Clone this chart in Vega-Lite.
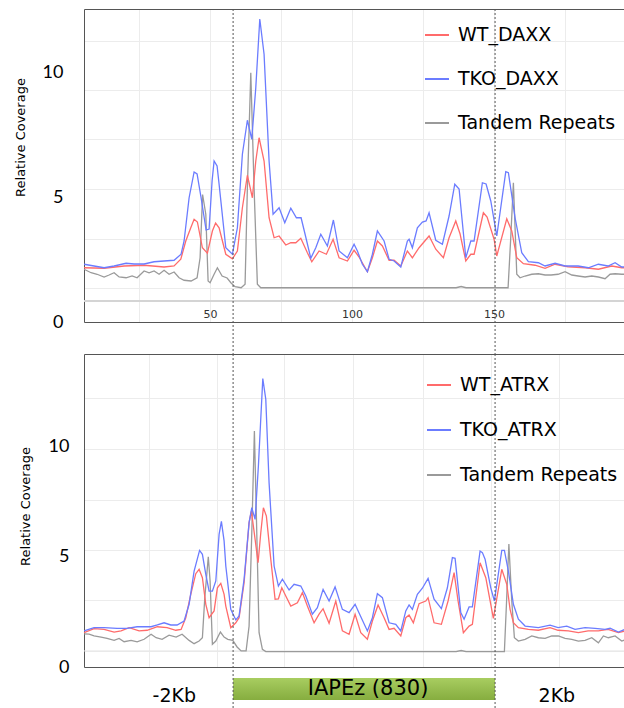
{
  "$schema": "https://vega.github.io/schema/vega-lite/v6.json",
  "padding": {"left": 13, "top": 8, "right": 0, "bottom": 0},
  "autosize": {"type": "pad"},
  "bounds": "flush",
  "spacing": 32,
  "config": {"view": {"stroke": null}, "font": "Lato", "axis": {"labelFont": "Lato", "titleFont": "DejaVu Sans"}, "legend": {"labelFont": "DejaVu Sans"}},
  "resolve": {"scale": {"x": "independent", "y": "independent", "color": "independent"}, "legend": {"color": "independent"}},
  "datasets": {
    "daxx": [
      {"series":"Tandem Repeats","pos":5.63,"cov":2.11},{"series":"Tandem Repeats","pos":8.10,"cov":1.97},{"series":"Tandem Repeats","pos":10.21,"cov":1.91},{"series":"Tandem Repeats","pos":12.68,"cov":1.80},{"series":"Tandem Repeats","pos":14.44,"cov":1.88},{"series":"Tandem Repeats","pos":16.20,"cov":1.97},{"series":"Tandem Repeats","pos":17.96,"cov":1.80},{"series":"Tandem Repeats","pos":20.42,"cov":1.77},{"series":"Tandem Repeats","pos":22.54,"cov":1.84},{"series":"Tandem Repeats","pos":24.30,"cov":1.77},{"series":"Tandem Repeats","pos":26.76,"cov":2.04},{"series":"Tandem Repeats","pos":28.52,"cov":1.97},{"series":"Tandem Repeats","pos":30.28,"cov":2.04},{"series":"Tandem Repeats","pos":32.04,"cov":1.91},{"series":"Tandem Repeats","pos":33.80,"cov":2.07},{"series":"Tandem Repeats","pos":35.56,"cov":1.91},{"series":"Tandem Repeats","pos":37.32,"cov":2.00},{"series":"Tandem Repeats","pos":39.08,"cov":1.77},{"series":"Tandem Repeats","pos":40.85,"cov":1.67},{"series":"Tandem Repeats","pos":43.31,"cov":1.64},{"series":"Tandem Repeats","pos":45.42,"cov":1.77},{"series":"Tandem Repeats","pos":46.48,"cov":2.57},{"series":"Tandem Repeats","pos":47.36,"cov":5.10},{"series":"Tandem Repeats","pos":48.49,"cov":4.31},{"series":"Tandem Repeats","pos":49.30,"cov":1.64},{"series":"Tandem Repeats","pos":50.00,"cov":1.57},{"series":"Tandem Repeats","pos":51.41,"cov":1.91},{"series":"Tandem Repeats","pos":52.57,"cov":2.17},{"series":"Tandem Repeats","pos":54.23,"cov":1.84},{"series":"Tandem Repeats","pos":55.99,"cov":1.76},{"series":"Tandem Repeats","pos":57.39,"cov":1.56},{"series":"Tandem Repeats","pos":58.80,"cov":1.41},{"series":"Tandem Repeats","pos":60.92,"cov":1.37},{"series":"Tandem Repeats","pos":62.32,"cov":1.51},{"series":"Tandem Repeats","pos":63.13,"cov":5.37},{"series":"Tandem Repeats","pos":64.33,"cov":9.97},{"series":"Tandem Repeats","pos":65.49,"cov":5.37},{"series":"Tandem Repeats","pos":66.65,"cov":1.51},{"series":"Tandem Repeats","pos":67.85,"cov":1.37},{"series":"Tandem Repeats","pos":82.04,"cov":1.37},{"series":"Tandem Repeats","pos":117.25,"cov":1.37},{"series":"Tandem Repeats","pos":136.62,"cov":1.37},{"series":"Tandem Repeats","pos":138.38,"cov":1.42},{"series":"Tandem Repeats","pos":140.14,"cov":1.37},{"series":"Tandem Repeats","pos":154.93,"cov":1.37},{"series":"Tandem Repeats","pos":155.81,"cov":3.24},{"series":"Tandem Repeats","pos":156.80,"cov":5.57},{"series":"Tandem Repeats","pos":157.99,"cov":1.91},{"series":"Tandem Repeats","pos":159.15,"cov":1.77},{"series":"Tandem Repeats","pos":160.92,"cov":1.84},{"series":"Tandem Repeats","pos":163.27,"cov":1.91},{"series":"Tandem Repeats","pos":165.60,"cov":1.93},{"series":"Tandem Repeats","pos":167.96,"cov":1.88},{"series":"Tandem Repeats","pos":170.07,"cov":1.88},{"series":"Tandem Repeats","pos":172.54,"cov":1.91},{"series":"Tandem Repeats","pos":175.00,"cov":2.01},{"series":"Tandem Repeats","pos":177.36,"cov":1.88},{"series":"Tandem Repeats","pos":179.58,"cov":1.84},{"series":"Tandem Repeats","pos":182.04,"cov":1.80},{"series":"Tandem Repeats","pos":184.40,"cov":1.84},{"series":"Tandem Repeats","pos":186.73,"cov":1.80},{"series":"Tandem Repeats","pos":189.08,"cov":1.73},{"series":"Tandem Repeats","pos":190.85,"cov":1.91},{"series":"Tandem Repeats","pos":192.61,"cov":1.93},{"series":"Tandem Repeats","pos":194.96,"cov":1.91},{"series":"Tandem Repeats","pos":196.13,"cov":1.91},
      {"series":"WT_DAXX","pos":5.63,"cov":2.17},{"series":"WT_DAXX","pos":12.68,"cov":2.15},{"series":"WT_DAXX","pos":19.72,"cov":2.24},{"series":"WT_DAXX","pos":26.76,"cov":2.27},{"series":"WT_DAXX","pos":33.80,"cov":2.20},{"series":"WT_DAXX","pos":37.32,"cov":2.24},{"series":"WT_DAXX","pos":39.68,"cov":2.51},{"series":"WT_DAXX","pos":41.44,"cov":3.24},{"series":"WT_DAXX","pos":43.20,"cov":3.77},{"series":"WT_DAXX","pos":44.37,"cov":4.11},{"series":"WT_DAXX","pos":45.53,"cov":4.00},{"series":"WT_DAXX","pos":47.29,"cov":2.97},{"series":"WT_DAXX","pos":49.05,"cov":2.75},{"series":"WT_DAXX","pos":50.81,"cov":3.64},{"series":"WT_DAXX","pos":51.94,"cov":3.96},{"series":"WT_DAXX","pos":53.17,"cov":3.77},{"series":"WT_DAXX","pos":55.53,"cov":2.71},{"series":"WT_DAXX","pos":57.85,"cov":2.53},{"series":"WT_DAXX","pos":59.61,"cov":2.84},{"series":"WT_DAXX","pos":61.37,"cov":4.57},{"series":"WT_DAXX","pos":63.13,"cov":5.87},{"series":"WT_DAXX","pos":64.89,"cov":4.97},{"series":"WT_DAXX","pos":66.09,"cov":6.44},{"series":"WT_DAXX","pos":67.25,"cov":7.37},{"series":"WT_DAXX","pos":69.01,"cov":6.44},{"series":"WT_DAXX","pos":70.77,"cov":4.17},{"series":"WT_DAXX","pos":72.54,"cov":3.37},{"series":"WT_DAXX","pos":74.30,"cov":3.44},{"series":"WT_DAXX","pos":76.65,"cov":3.08},{"series":"WT_DAXX","pos":78.42,"cov":3.17},{"series":"WT_DAXX","pos":80.18,"cov":3.17},{"series":"WT_DAXX","pos":81.94,"cov":3.35},{"series":"WT_DAXX","pos":84.26,"cov":2.77},{"series":"WT_DAXX","pos":85.81,"cov":2.41},{"series":"WT_DAXX","pos":88.38,"cov":2.84},{"series":"WT_DAXX","pos":90.95,"cov":2.71},{"series":"WT_DAXX","pos":93.31,"cov":3.31},{"series":"WT_DAXX","pos":95.42,"cov":2.57},{"series":"WT_DAXX","pos":98.35,"cov":2.44},{"series":"WT_DAXX","pos":100.70,"cov":2.87},{"series":"WT_DAXX","pos":102.46,"cov":2.60},{"series":"WT_DAXX","pos":105.39,"cov":2.01},{"series":"WT_DAXX","pos":107.15,"cov":2.57},{"series":"WT_DAXX","pos":108.91,"cov":3.24},{"series":"WT_DAXX","pos":110.67,"cov":3.04},{"series":"WT_DAXX","pos":113.03,"cov":2.47},{"series":"WT_DAXX","pos":114.79,"cov":2.47},{"series":"WT_DAXX","pos":117.15,"cov":2.24},{"series":"WT_DAXX","pos":119.47,"cov":2.84},{"series":"WT_DAXX","pos":121.23,"cov":2.57},{"series":"WT_DAXX","pos":123.59,"cov":2.97},{"series":"WT_DAXX","pos":127.11,"cov":3.44},{"series":"WT_DAXX","pos":129.47,"cov":2.91},{"series":"WT_DAXX","pos":132.15,"cov":2.57},{"series":"WT_DAXX","pos":134.15,"cov":3.37},{"series":"WT_DAXX","pos":136.51,"cov":4.04},{"series":"WT_DAXX","pos":138.03,"cov":3.52},{"series":"WT_DAXX","pos":140.04,"cov":2.44},{"series":"WT_DAXX","pos":141.80,"cov":2.71},{"series":"WT_DAXX","pos":142.96,"cov":2.71},{"series":"WT_DAXX","pos":146.23,"cov":4.37},{"series":"WT_DAXX","pos":147.54,"cov":4.20},{"series":"WT_DAXX","pos":150.00,"cov":3.31},{"series":"WT_DAXX","pos":150.95,"cov":2.64},{"series":"WT_DAXX","pos":154.47,"cov":4.13},{"series":"WT_DAXX","pos":156.23,"cov":3.64},{"series":"WT_DAXX","pos":157.99,"cov":2.57},{"series":"WT_DAXX","pos":160.32,"cov":2.33},{"series":"WT_DAXX","pos":164.44,"cov":2.27},{"series":"WT_DAXX","pos":167.96,"cov":2.15},{"series":"WT_DAXX","pos":171.48,"cov":2.31},{"series":"WT_DAXX","pos":176.06,"cov":2.21},{"series":"WT_DAXX","pos":182.04,"cov":2.17},{"series":"WT_DAXX","pos":186.73,"cov":2.11},{"series":"WT_DAXX","pos":191.44,"cov":2.24},{"series":"WT_DAXX","pos":194.96,"cov":2.17},{"series":"WT_DAXX","pos":196.13,"cov":2.17},
      {"series":"TKO_DAXX","pos":5.63,"cov":2.31},{"series":"TKO_DAXX","pos":9.15,"cov":2.24},{"series":"TKO_DAXX","pos":12.68,"cov":2.17},{"series":"TKO_DAXX","pos":16.20,"cov":2.24},{"series":"TKO_DAXX","pos":20.42,"cov":2.35},{"series":"TKO_DAXX","pos":23.24,"cov":2.32},{"series":"TKO_DAXX","pos":26.76,"cov":2.32},{"series":"TKO_DAXX","pos":30.28,"cov":2.41},{"series":"TKO_DAXX","pos":33.80,"cov":2.44},{"series":"TKO_DAXX","pos":37.32,"cov":2.47},{"series":"TKO_DAXX","pos":39.79,"cov":2.71},{"series":"TKO_DAXX","pos":40.85,"cov":3.24},{"series":"TKO_DAXX","pos":42.61,"cov":4.97},{"series":"TKO_DAXX","pos":44.37,"cov":6.00},{"series":"TKO_DAXX","pos":45.42,"cov":5.92},{"series":"TKO_DAXX","pos":46.83,"cov":4.97},{"series":"TKO_DAXX","pos":48.59,"cov":3.68},{"series":"TKO_DAXX","pos":49.65,"cov":3.72},{"series":"TKO_DAXX","pos":50.70,"cov":5.64},{"series":"TKO_DAXX","pos":51.41,"cov":6.44},{"series":"TKO_DAXX","pos":52.46,"cov":6.24},{"series":"TKO_DAXX","pos":53.17,"cov":5.51},{"series":"TKO_DAXX","pos":55.53,"cov":2.97},{"series":"TKO_DAXX","pos":57.85,"cov":2.71},{"series":"TKO_DAXX","pos":59.61,"cov":3.77},{"series":"TKO_DAXX","pos":61.37,"cov":6.71},{"series":"TKO_DAXX","pos":63.13,"cov":8.07},{"series":"TKO_DAXX","pos":64.68,"cov":7.31},{"series":"TKO_DAXX","pos":66.09,"cov":9.37},{"series":"TKO_DAXX","pos":67.50,"cov":12.12},{"series":"TKO_DAXX","pos":69.01,"cov":10.71},{"series":"TKO_DAXX","pos":70.77,"cov":6.44},{"series":"TKO_DAXX","pos":72.18,"cov":4.31},{"series":"TKO_DAXX","pos":74.30,"cov":4.57},{"series":"TKO_DAXX","pos":76.30,"cov":3.97},{"series":"TKO_DAXX","pos":78.42,"cov":4.55},{"series":"TKO_DAXX","pos":80.39,"cov":4.17},{"series":"TKO_DAXX","pos":82.04,"cov":4.17},{"series":"TKO_DAXX","pos":83.45,"cov":3.51},{"series":"TKO_DAXX","pos":85.46,"cov":2.55},{"series":"TKO_DAXX","pos":87.22,"cov":2.97},{"series":"TKO_DAXX","pos":88.98,"cov":3.51},{"series":"TKO_DAXX","pos":91.30,"cov":3.04},{"series":"TKO_DAXX","pos":93.42,"cov":4.08},{"series":"TKO_DAXX","pos":95.42,"cov":2.84},{"series":"TKO_DAXX","pos":98.35,"cov":2.57},{"series":"TKO_DAXX","pos":100.70,"cov":3.11},{"series":"TKO_DAXX","pos":101.87,"cov":2.84},{"series":"TKO_DAXX","pos":103.63,"cov":2.31},{"series":"TKO_DAXX","pos":105.39,"cov":2.01},{"series":"TKO_DAXX","pos":107.15,"cov":2.71},{"series":"TKO_DAXX","pos":108.91,"cov":3.64},{"series":"TKO_DAXX","pos":111.27,"cov":3.24},{"series":"TKO_DAXX","pos":113.03,"cov":2.51},{"series":"TKO_DAXX","pos":114.79,"cov":2.44},{"series":"TKO_DAXX","pos":117.15,"cov":2.20},{"series":"TKO_DAXX","pos":119.47,"cov":3.24},{"series":"TKO_DAXX","pos":120.07,"cov":3.31},{"series":"TKO_DAXX","pos":121.23,"cov":2.97},{"series":"TKO_DAXX","pos":122.99,"cov":3.77},{"series":"TKO_DAXX","pos":124.75,"cov":4.00},{"series":"TKO_DAXX","pos":126.06,"cov":4.04},{"series":"TKO_DAXX","pos":127.11,"cov":4.37},{"series":"TKO_DAXX","pos":129.47,"cov":3.27},{"series":"TKO_DAXX","pos":131.80,"cov":3.11},{"series":"TKO_DAXX","pos":134.15,"cov":4.24},{"series":"TKO_DAXX","pos":136.16,"cov":5.51},{"series":"TKO_DAXX","pos":137.68,"cov":5.32},{"series":"TKO_DAXX","pos":140.04,"cov":2.57},{"series":"TKO_DAXX","pos":141.80,"cov":3.24},{"series":"TKO_DAXX","pos":142.96,"cov":3.24},{"series":"TKO_DAXX","pos":145.88,"cov":5.57},{"series":"TKO_DAXX","pos":147.18,"cov":5.52},{"series":"TKO_DAXX","pos":148.84,"cov":4.84},{"series":"TKO_DAXX","pos":150.95,"cov":3.44},{"series":"TKO_DAXX","pos":154.12,"cov":6.01},{"series":"TKO_DAXX","pos":155.04,"cov":5.97},{"series":"TKO_DAXX","pos":157.39,"cov":4.17},{"series":"TKO_DAXX","pos":159.75,"cov":2.77},{"series":"TKO_DAXX","pos":162.08,"cov":2.41},{"series":"TKO_DAXX","pos":165.60,"cov":2.37},{"series":"TKO_DAXX","pos":167.96,"cov":2.24},{"series":"TKO_DAXX","pos":171.48,"cov":2.35},{"series":"TKO_DAXX","pos":175.00,"cov":2.24},{"series":"TKO_DAXX","pos":179.58,"cov":2.24},{"series":"TKO_DAXX","pos":183.20,"cov":2.17},{"series":"TKO_DAXX","pos":186.73,"cov":2.31},{"series":"TKO_DAXX","pos":190.14,"cov":2.24},{"series":"TKO_DAXX","pos":192.61,"cov":2.37},{"series":"TKO_DAXX","pos":194.96,"cov":2.20},{"series":"TKO_DAXX","pos":196.13,"cov":2.20}
    ],
    "atrx": [
      {"series":"Tandem Repeats","pos":5.63,"cov":1.51},{"series":"Tandem Repeats","pos":7.39,"cov":1.49},{"series":"Tandem Repeats","pos":9.15,"cov":1.41},{"series":"Tandem Repeats","pos":11.62,"cov":1.36},{"series":"Tandem Repeats","pos":13.73,"cov":1.30},{"series":"Tandem Repeats","pos":16.20,"cov":1.21},{"series":"Tandem Repeats","pos":17.96,"cov":1.30},{"series":"Tandem Repeats","pos":19.72,"cov":1.15},{"series":"Tandem Repeats","pos":22.18,"cov":1.21},{"series":"Tandem Repeats","pos":24.30,"cov":1.14},{"series":"Tandem Repeats","pos":26.76,"cov":1.26},{"series":"Tandem Repeats","pos":29.23,"cov":1.49},{"series":"Tandem Repeats","pos":30.99,"cov":1.33},{"series":"Tandem Repeats","pos":33.10,"cov":1.26},{"series":"Tandem Repeats","pos":35.56,"cov":1.45},{"series":"Tandem Repeats","pos":38.03,"cov":1.36},{"series":"Tandem Repeats","pos":40.14,"cov":1.49},{"series":"Tandem Repeats","pos":42.61,"cov":1.21},{"series":"Tandem Repeats","pos":44.37,"cov":1.06},{"series":"Tandem Repeats","pos":46.13,"cov":1.18},{"series":"Tandem Repeats","pos":47.29,"cov":1.33},{"series":"Tandem Repeats","pos":48.13,"cov":3.15},{"series":"Tandem Repeats","pos":49.37,"cov":5.01},{"series":"Tandem Repeats","pos":50.00,"cov":3.91},{"series":"Tandem Repeats","pos":50.81,"cov":1.03},{"series":"Tandem Repeats","pos":52.01,"cov":1.18},{"series":"Tandem Repeats","pos":53.63,"cov":1.59},{"series":"Tandem Repeats","pos":54.93,"cov":1.36},{"series":"Tandem Repeats","pos":56.23,"cov":1.26},{"series":"Tandem Repeats","pos":57.99,"cov":1.21},{"series":"Tandem Repeats","pos":59.51,"cov":0.91},{"series":"Tandem Repeats","pos":60.92,"cov":0.73},{"series":"Tandem Repeats","pos":62.68,"cov":0.73},{"series":"Tandem Repeats","pos":63.73,"cov":1.86},{"series":"Tandem Repeats","pos":64.68,"cov":6.10},{"series":"Tandem Repeats","pos":65.60,"cov":10.73},{"series":"Tandem Repeats","pos":66.30,"cov":6.86},{"series":"Tandem Repeats","pos":67.25,"cov":1.56},{"series":"Tandem Repeats","pos":68.42,"cov":0.80},{"series":"Tandem Repeats","pos":69.61,"cov":0.70},{"series":"Tandem Repeats","pos":82.04,"cov":0.70},{"series":"Tandem Repeats","pos":117.25,"cov":0.70},{"series":"Tandem Repeats","pos":136.62,"cov":0.70},{"series":"Tandem Repeats","pos":138.38,"cov":0.75},{"series":"Tandem Repeats","pos":140.14,"cov":0.70},{"series":"Tandem Repeats","pos":153.63,"cov":0.70},{"series":"Tandem Repeats","pos":154.40,"cov":3.00},{"series":"Tandem Repeats","pos":155.21,"cov":5.59},{"series":"Tandem Repeats","pos":156.23,"cov":3.00},{"series":"Tandem Repeats","pos":157.15,"cov":1.33},{"series":"Tandem Repeats","pos":158.56,"cov":1.18},{"series":"Tandem Repeats","pos":160.92,"cov":1.26},{"series":"Tandem Repeats","pos":163.27,"cov":1.41},{"series":"Tandem Repeats","pos":165.60,"cov":1.33},{"series":"Tandem Repeats","pos":167.96,"cov":1.30},{"series":"Tandem Repeats","pos":170.32,"cov":1.41},{"series":"Tandem Repeats","pos":172.64,"cov":1.41},{"series":"Tandem Repeats","pos":175.00,"cov":1.30},{"series":"Tandem Repeats","pos":177.36,"cov":1.26},{"series":"Tandem Repeats","pos":179.68,"cov":1.18},{"series":"Tandem Repeats","pos":182.04,"cov":1.21},{"series":"Tandem Repeats","pos":184.40,"cov":1.33},{"series":"Tandem Repeats","pos":186.73,"cov":1.10},{"series":"Tandem Repeats","pos":188.49,"cov":1.41},{"series":"Tandem Repeats","pos":190.25,"cov":1.33},{"series":"Tandem Repeats","pos":192.61,"cov":1.41},{"series":"Tandem Repeats","pos":194.96,"cov":1.18},{"series":"Tandem Repeats","pos":196.13,"cov":1.23},
      {"series":"WT_ATRX","pos":5.63,"cov":1.56},{"series":"WT_ATRX","pos":9.15,"cov":1.74},{"series":"WT_ATRX","pos":12.68,"cov":1.71},{"series":"WT_ATRX","pos":16.20,"cov":1.59},{"series":"WT_ATRX","pos":18.66,"cov":1.64},{"series":"WT_ATRX","pos":21.48,"cov":1.79},{"series":"WT_ATRX","pos":25.00,"cov":1.64},{"series":"WT_ATRX","pos":27.82,"cov":1.67},{"series":"WT_ATRX","pos":31.44,"cov":1.83},{"series":"WT_ATRX","pos":34.86,"cov":1.79},{"series":"WT_ATRX","pos":37.92,"cov":1.67},{"series":"WT_ATRX","pos":39.79,"cov":1.71},{"series":"WT_ATRX","pos":41.44,"cov":2.24},{"series":"WT_ATRX","pos":43.20,"cov":3.30},{"series":"WT_ATRX","pos":44.96,"cov":4.24},{"series":"WT_ATRX","pos":46.13,"cov":4.44},{"series":"WT_ATRX","pos":47.29,"cov":4.06},{"series":"WT_ATRX","pos":48.49,"cov":2.85},{"series":"WT_ATRX","pos":49.65,"cov":2.24},{"series":"WT_ATRX","pos":51.41,"cov":2.55},{"series":"WT_ATRX","pos":52.57,"cov":3.60},{"series":"WT_ATRX","pos":53.77,"cov":3.80},{"series":"WT_ATRX","pos":54.93,"cov":3.30},{"series":"WT_ATRX","pos":55.53,"cov":2.77},{"series":"WT_ATRX","pos":57.29,"cov":1.79},{"series":"WT_ATRX","pos":59.05,"cov":2.01},{"series":"WT_ATRX","pos":60.21,"cov":2.24},{"series":"WT_ATRX","pos":61.97,"cov":3.83},{"series":"WT_ATRX","pos":63.73,"cov":6.56},{"series":"WT_ATRX","pos":64.54,"cov":7.09},{"series":"WT_ATRX","pos":65.85,"cov":5.80},{"series":"WT_ATRX","pos":66.90,"cov":4.74},{"series":"WT_ATRX","pos":67.85,"cov":6.10},{"series":"WT_ATRX","pos":68.77,"cov":7.24},{"series":"WT_ATRX","pos":69.82,"cov":6.86},{"series":"WT_ATRX","pos":71.37,"cov":4.90},{"series":"WT_ATRX","pos":72.89,"cov":3.08},{"series":"WT_ATRX","pos":74.05,"cov":3.10},{"series":"WT_ATRX","pos":75.25,"cov":3.60},{"series":"WT_ATRX","pos":76.65,"cov":3.23},{"series":"WT_ATRX","pos":78.42,"cov":2.77},{"series":"WT_ATRX","pos":80.74,"cov":2.92},{"series":"WT_ATRX","pos":82.50,"cov":3.38},{"series":"WT_ATRX","pos":84.26,"cov":2.77},{"series":"WT_ATRX","pos":86.62,"cov":2.01},{"series":"WT_ATRX","pos":88.38,"cov":2.40},{"series":"WT_ATRX","pos":89.79,"cov":2.65},{"series":"WT_ATRX","pos":91.90,"cov":1.99},{"series":"WT_ATRX","pos":94.26,"cov":3.00},{"series":"WT_ATRX","pos":96.58,"cov":1.64},{"series":"WT_ATRX","pos":98.94,"cov":1.49},{"series":"WT_ATRX","pos":101.06,"cov":2.40},{"series":"WT_ATRX","pos":103.06,"cov":1.56},{"series":"WT_ATRX","pos":105.39,"cov":1.26},{"series":"WT_ATRX","pos":107.15,"cov":2.09},{"series":"WT_ATRX","pos":109.15,"cov":2.82},{"series":"WT_ATRX","pos":111.27,"cov":2.24},{"series":"WT_ATRX","pos":113.03,"cov":1.71},{"series":"WT_ATRX","pos":114.79,"cov":1.76},{"series":"WT_ATRX","pos":117.15,"cov":1.41},{"series":"WT_ATRX","pos":118.91,"cov":2.24},{"series":"WT_ATRX","pos":120.07,"cov":2.36},{"series":"WT_ATRX","pos":121.58,"cov":2.01},{"series":"WT_ATRX","pos":123.59,"cov":2.88},{"series":"WT_ATRX","pos":125.95,"cov":3.00},{"series":"WT_ATRX","pos":126.76,"cov":3.15},{"series":"WT_ATRX","pos":128.87,"cov":2.01},{"series":"WT_ATRX","pos":131.44,"cov":1.94},{"series":"WT_ATRX","pos":133.80,"cov":3.00},{"series":"WT_ATRX","pos":135.92,"cov":4.29},{"series":"WT_ATRX","pos":137.32,"cov":3.00},{"series":"WT_ATRX","pos":139.19,"cov":1.56},{"series":"WT_ATRX","pos":141.20,"cov":1.86},{"series":"WT_ATRX","pos":142.36,"cov":1.94},{"series":"WT_ATRX","pos":145.07,"cov":4.74},{"series":"WT_ATRX","pos":147.08,"cov":4.06},{"series":"WT_ATRX","pos":149.75,"cov":2.21},{"series":"WT_ATRX","pos":152.71,"cov":4.44},{"series":"WT_ATRX","pos":154.47,"cov":3.76},{"series":"WT_ATRX","pos":155.63,"cov":2.62},{"series":"WT_ATRX","pos":156.80,"cov":2.01},{"series":"WT_ATRX","pos":158.56,"cov":1.79},{"series":"WT_ATRX","pos":162.08,"cov":1.71},{"series":"WT_ATRX","pos":165.60,"cov":1.67},{"series":"WT_ATRX","pos":169.72,"cov":1.79},{"series":"WT_ATRX","pos":172.54,"cov":1.67},{"series":"WT_ATRX","pos":176.16,"cov":1.64},{"series":"WT_ATRX","pos":179.68,"cov":1.56},{"series":"WT_ATRX","pos":183.10,"cov":1.64},{"series":"WT_ATRX","pos":186.73,"cov":1.64},{"series":"WT_ATRX","pos":190.14,"cov":1.71},{"series":"WT_ATRX","pos":193.77,"cov":1.56},{"series":"WT_ATRX","pos":196.13,"cov":1.64},
      {"series":"TKO_ATRX","pos":5.63,"cov":1.64},{"series":"TKO_ATRX","pos":9.15,"cov":1.79},{"series":"TKO_ATRX","pos":12.68,"cov":1.79},{"series":"TKO_ATRX","pos":17.25,"cov":1.76},{"series":"TKO_ATRX","pos":20.77,"cov":1.76},{"series":"TKO_ATRX","pos":24.30,"cov":1.83},{"series":"TKO_ATRX","pos":29.23,"cov":1.83},{"series":"TKO_ATRX","pos":31.44,"cov":1.91},{"series":"TKO_ATRX","pos":33.80,"cov":2.01},{"series":"TKO_ATRX","pos":36.16,"cov":1.91},{"series":"TKO_ATRX","pos":38.38,"cov":1.91},{"series":"TKO_ATRX","pos":40.85,"cov":2.09},{"series":"TKO_ATRX","pos":42.61,"cov":2.85},{"series":"TKO_ATRX","pos":44.37,"cov":4.36},{"series":"TKO_ATRX","pos":46.30,"cov":5.30},{"series":"TKO_ATRX","pos":47.29,"cov":5.12},{"series":"TKO_ATRX","pos":48.49,"cov":4.21},{"series":"TKO_ATRX","pos":49.65,"cov":3.45},{"series":"TKO_ATRX","pos":50.81,"cov":3.45},{"series":"TKO_ATRX","pos":52.01,"cov":3.91},{"series":"TKO_ATRX","pos":53.17,"cov":6.03},{"series":"TKO_ATRX","pos":53.98,"cov":6.62},{"series":"TKO_ATRX","pos":54.93,"cov":5.73},{"series":"TKO_ATRX","pos":55.53,"cov":4.59},{"series":"TKO_ATRX","pos":57.29,"cov":2.62},{"series":"TKO_ATRX","pos":59.05,"cov":2.14},{"series":"TKO_ATRX","pos":60.21,"cov":2.32},{"series":"TKO_ATRX","pos":61.97,"cov":3.99},{"series":"TKO_ATRX","pos":63.73,"cov":6.56},{"series":"TKO_ATRX","pos":64.68,"cov":7.24},{"series":"TKO_ATRX","pos":65.85,"cov":6.71},{"series":"TKO_ATRX","pos":67.01,"cov":9.14},{"series":"TKO_ATRX","pos":68.56,"cov":13.11},{"series":"TKO_ATRX","pos":69.61,"cov":12.17},{"series":"TKO_ATRX","pos":70.77,"cov":8.38},{"series":"TKO_ATRX","pos":72.54,"cov":4.59},{"series":"TKO_ATRX","pos":74.05,"cov":3.68},{"series":"TKO_ATRX","pos":75.46,"cov":3.99},{"series":"TKO_ATRX","pos":77.82,"cov":3.50},{"series":"TKO_ATRX","pos":79.58,"cov":3.76},{"series":"TKO_ATRX","pos":81.94,"cov":3.68},{"series":"TKO_ATRX","pos":83.70,"cov":3.23},{"series":"TKO_ATRX","pos":86.02,"cov":2.40},{"series":"TKO_ATRX","pos":87.78,"cov":2.70},{"series":"TKO_ATRX","pos":89.79,"cov":3.53},{"series":"TKO_ATRX","pos":91.90,"cov":3.00},{"series":"TKO_ATRX","pos":94.01,"cov":3.64},{"series":"TKO_ATRX","pos":96.58,"cov":2.62},{"series":"TKO_ATRX","pos":98.94,"cov":2.47},{"series":"TKO_ATRX","pos":101.06,"cov":2.85},{"series":"TKO_ATRX","pos":102.46,"cov":2.45},{"series":"TKO_ATRX","pos":105.39,"cov":1.64},{"series":"TKO_ATRX","pos":107.15,"cov":2.24},{"series":"TKO_ATRX","pos":108.91,"cov":3.33},{"series":"TKO_ATRX","pos":110.67,"cov":3.15},{"series":"TKO_ATRX","pos":113.03,"cov":2.01},{"series":"TKO_ATRX","pos":115.39,"cov":1.94},{"series":"TKO_ATRX","pos":117.15,"cov":1.64},{"series":"TKO_ATRX","pos":118.91,"cov":2.55},{"series":"TKO_ATRX","pos":120.07,"cov":2.82},{"series":"TKO_ATRX","pos":121.23,"cov":2.62},{"series":"TKO_ATRX","pos":122.99,"cov":3.30},{"series":"TKO_ATRX","pos":124.75,"cov":3.58},{"series":"TKO_ATRX","pos":126.76,"cov":4.03},{"series":"TKO_ATRX","pos":128.87,"cov":3.08},{"series":"TKO_ATRX","pos":131.44,"cov":2.65},{"series":"TKO_ATRX","pos":133.56,"cov":3.60},{"series":"TKO_ATRX","pos":135.32,"cov":4.97},{"series":"TKO_ATRX","pos":136.27,"cov":4.94},{"series":"TKO_ATRX","pos":138.27,"cov":2.47},{"series":"TKO_ATRX","pos":139.44,"cov":2.17},{"series":"TKO_ATRX","pos":141.20,"cov":2.73},{"series":"TKO_ATRX","pos":142.36,"cov":2.73},{"series":"TKO_ATRX","pos":145.07,"cov":5.27},{"series":"TKO_ATRX","pos":145.88,"cov":5.20},{"series":"TKO_ATRX","pos":146.83,"cov":4.90},{"series":"TKO_ATRX","pos":148.84,"cov":3.60},{"series":"TKO_ATRX","pos":150.11,"cov":3.00},{"series":"TKO_ATRX","pos":152.71,"cov":5.30},{"series":"TKO_ATRX","pos":153.63,"cov":5.30},{"series":"TKO_ATRX","pos":155.04,"cov":4.36},{"series":"TKO_ATRX","pos":156.80,"cov":2.85},{"series":"TKO_ATRX","pos":158.56,"cov":2.17},{"series":"TKO_ATRX","pos":160.92,"cov":1.86},{"series":"TKO_ATRX","pos":165.60,"cov":1.79},{"series":"TKO_ATRX","pos":169.72,"cov":1.90},{"series":"TKO_ATRX","pos":172.54,"cov":1.79},{"series":"TKO_ATRX","pos":175.60,"cov":1.86},{"series":"TKO_ATRX","pos":178.52,"cov":1.71},{"series":"TKO_ATRX","pos":182.04,"cov":1.79},{"series":"TKO_ATRX","pos":185.56,"cov":1.76},{"series":"TKO_ATRX","pos":189.08,"cov":1.71},{"series":"TKO_ATRX","pos":190.85,"cov":1.76},{"series":"TKO_ATRX","pos":193.77,"cov":1.59},{"series":"TKO_ATRX","pos":196.13,"cov":1.71}
    ],
    "element": [{"element": "IAPEz (830)", "start": 58.1, "end": 150.35}],
    "boundaries": [{"pos": 58.1}, {"pos": 150.35}],
    "flanks": [{"label": "-2Kb", "pos": 37.4}, {"label": "2Kb", "pos": 172.1}]
  },
  "vconcat": [
    {
      "width": 541,
      "height": 313,
      "resolve": {"axis": {"x": "independent", "y": "independent"}},
      "layer": [
        {
          "data": {"values": [{}]},
          "mark": {"type": "rule", "color": "#d4d4d4", "strokeWidth": 2},
          "encoding": {
            "y": {"datum": 0.84, "type": "quantitative", "scale": {"domain": [0, 12.52], "nice": false, "zero": false},
              "axis": {"orient": "right", "values": [1.36, 3.32, 5.32, 7.32, 9.28, 11.24], "grid": true, "gridColor": "#ececec", "gridWidth": 1, "labels": false, "ticks": false, "domain": false, "title": null}}
          }
        },
        {
          "data": {"name": "daxx"},
          "mark": {"type": "line", "strokeWidth": 1.3, "interpolate": "linear"},
          "encoding": {
            "x": {"field": "pos", "type": "quantitative", "scale": {"domain": [5.6, 196.1], "nice": false, "zero": false},
              "axis": {"orient": "bottom", "values": [25, 50, 75, 100, 125, 150, 175], "labelExpr": "datum.value % 50 === 0 ? datum.label : ''", "labelOverlap": false, "grid": true, "gridColor": "#ececec", "ticks": false, "domain": true, "domainColor": "#555555", "labelFont": "DejaVu Sans", "labelFontSize": 11, "labelColor": "#333333", "labelPadding": -14, "title": null}},
            "y": {"field": "cov", "type": "quantitative",
              "axis": {"orient": "left", "values": [0, 5, 10], "grid": false, "ticks": false, "domain": true, "domainColor": "#555555", "labelFontSize": 18, "labelColor": "#000000", "labelPadding": 21, "title": "Relative Coverage", "titleFontSize": 13, "titleFontWeight": "normal", "titleColor": "#000000", "titleAngle": -90, "titleAlign": "center", "titleBaseline": "top", "titleX": -70, "titleY": 128}},
            "color": {"field": "series", "type": "nominal",
              "scale": {"domain": ["WT_DAXX", "TKO_DAXX", "Tandem Repeats"], "range": ["#ff6b6b", "#6b7cff", "#9a9a9a"]},
              "legend": {"orient": "none", "legendX": 340, "legendY": 13, "title": null, "symbolType": "stroke", "symbolSize": 576, "symbolStrokeWidth": 2, "labelFontSize": 19, "labelColor": "#000000", "labelOffset": 8, "rowPadding": 21, "padding": 0, "labelLimit": 300}}
          }
        },
        {
          "data": {"name": "boundaries"},
          "mark": {"type": "rule", "strokeDash": [2, 2], "color": "#555555", "strokeWidth": 1},
          "encoding": {
            "x": {"field": "pos", "type": "quantitative",
              "axis": {"orient": "top", "labels": false, "ticks": false, "grid": false, "domain": true, "domainColor": "#555555", "title": null}},
            "y": {"datum": 12.52, "axis": null},
            "y2": {"datum": -1.3}
          }
        }
      ]
    },
    {
      "width": 541,
      "height": 313,
      "resolve": {"axis": {"x": "independent", "y": "independent"}},
      "layer": [
        {
          "data": {"values": [{}]},
          "mark": {"type": "rule", "color": "#e6e6e6", "strokeWidth": 1},
          "encoding": {
            "y": {"datum": 0.73, "type": "quantitative", "scale": {"domain": [0, 14.227], "nice": false, "zero": false},
              "axis": {"orient": "right", "values": [0.73, 3.05, 5.32, 7.59, 9.91, 12.23], "grid": true, "gridColor": "#ececec", "gridWidth": 1, "labels": false, "ticks": false, "domain": false, "title": null}}
          }
        },
        {
          "data": {"name": "atrx"},
          "mark": {"type": "line", "strokeWidth": 1.3, "interpolate": "linear"},
          "encoding": {
            "x": {"field": "pos", "type": "quantitative", "scale": {"domain": [5.6, 196.1], "nice": false, "zero": false},
              "axis": {"orient": "bottom", "values": [28.5, 52.5, 76.1, 100.4, 125, 148.9, 172.9], "labels": false, "grid": true, "gridColor": "#ececec", "ticks": false, "domain": true, "domainColor": "#555555", "title": null}},
            "y": {"field": "cov", "type": "quantitative",
              "axis": {"orient": "left", "values": [0, 5, 10], "grid": false, "ticks": false, "domain": true, "domainColor": "#555555", "labelFontSize": 18, "labelColor": "#000000", "labelPadding": 15, "title": "Relative Coverage", "titleFontSize": 13, "titleFontWeight": "normal", "titleColor": "#000000", "titleAngle": -90, "titleAlign": "center", "titleBaseline": "top", "titleX": -65, "titleY": 152}},
            "color": {"field": "series", "type": "nominal",
              "scale": {"domain": ["WT_ATRX", "TKO_ATRX", "Tandem Repeats"], "range": ["#ff6b6b", "#6b7cff", "#9a9a9a"]},
              "legend": {"orient": "none", "legendX": 342, "legendY": 18, "title": null, "symbolType": "stroke", "symbolSize": 576, "symbolStrokeWidth": 2, "labelFontSize": 19, "labelColor": "#000000", "labelOffset": 8, "rowPadding": 22, "padding": 0, "labelLimit": 300}}
          }
        },
        {
          "data": {"name": "element"},
          "mark": {"type": "rect", "color": {"gradient": "linear", "x1": 0, "y1": 0, "x2": 0, "y2": 1, "stops": [{"offset": 0, "color": "#a8cd60"}, {"offset": 1, "color": "#86ad3f"}]}},
          "encoding": {
            "x": {"field": "start", "type": "quantitative", "axis": null},
            "x2": {"field": "end"},
            "y": {"datum": -0.5, "axis": null},
            "y2": {"datum": -1.5}
          }
        },
        {
          "data": {"name": "element"},
          "mark": {"type": "text", "font": "DejaVu Sans", "fontSize": 21, "color": "#000000", "align": "center", "baseline": "middle", "dx": 4},
          "encoding": {
            "x": {"datum": 104.2, "axis": null},
            "y": {"datum": -1.0, "axis": null},
            "text": {"field": "element"}
          }
        },
        {
          "data": {"name": "flanks"},
          "mark": {"type": "text", "font": "DejaVu Sans", "fontSize": 19, "color": "#000000", "align": "center", "baseline": "middle"},
          "encoding": {
            "x": {"field": "pos", "type": "quantitative", "axis": null},
            "y": {"datum": -1.32, "axis": null},
            "text": {"field": "label"}
          }
        },
        {
          "data": {"name": "boundaries"},
          "mark": {"type": "rule", "strokeDash": [2, 2], "color": "#555555", "strokeWidth": 1},
          "encoding": {
            "x": {"field": "pos", "type": "quantitative",
              "axis": {"orient": "top", "labels": false, "ticks": false, "grid": false, "domain": true, "domainColor": "#555555", "title": null}},
            "y": {"datum": 14.227, "axis": null},
            "y2": {"datum": -1.91}
          }
        }
      ]
    }
  ]
}
